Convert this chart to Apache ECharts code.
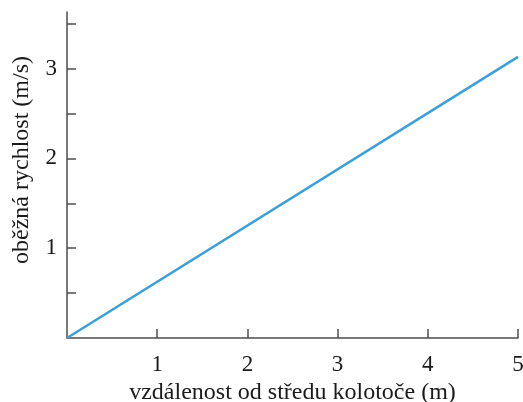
<!DOCTYPE html>
<html><head><meta charset="utf-8">
<script src="https://cdn.jsdelivr.net/npm/echarts@6/dist/echarts.min.js"></script>
<style>html,body{margin:0;padding:0;background:#fff}#c{width:523px;height:402px}</style>
</head><body><div id="c"></div>
<script>
const distance = [0, 5];
const speed = [0, 3.13];
const xTicks = [1, 2, 3, 4, 5];
const yTicks = [0.5, 1, 1.5, 2, 2.5, 3, 3.5];
const yLabels = [1, 2, 3];
const xName = 'vzdálenost od středu kolotoče (m)';
const yName = 'oběžná rychlost (m/s)';

const font = '"Liberation Serif", "DejaVu Serif", serif';
const axisColor = '#4d4d4d';
const chart = echarts.init(document.getElementById('c'));
chart.setOption({
  animation: false,
  grid: {left: 67, right: 5, top: 12, bottom: 64, containLabel: false, outerBoundsMode: 'none'},
  xAxis: {
    type: 'value', min: 0, max: 5,
    name: xName, nameLocation: 'middle', nameGap: 42,
    nameTextStyle: {fontFamily: font, fontSize: 24, color: '#1a1a1a'},
    axisLine: {lineStyle: {color: axisColor, width: 1.5}},
    axisTick: {show: true, inside: true, length: 9, customValues: xTicks, lineStyle: {color: axisColor, width: 1.5}},
    axisLabel: {customValues: xTicks, fontFamily: font, fontSize: 23, color: '#1a1a1a', margin: 15},
    splitLine: {show: false}
  },
  yAxis: {
    type: 'value', min: 0, max: 3.63,
    name: yName, nameLocation: 'middle', nameGap: 33,
    nameTextStyle: {fontFamily: font, fontSize: 24, color: '#1a1a1a', padding: [0, 0, 0, 30]},
    axisLine: {lineStyle: {color: axisColor, width: 1.5}},
    axisTick: {show: true, inside: true, length: 9, customValues: yTicks, lineStyle: {color: axisColor, width: 1.5}},
    axisLabel: {customValues: yLabels, fontFamily: font, fontSize: 23, color: '#1a1a1a', margin: 10},
    splitLine: {show: false}
  },
  series: [{
    type: 'line',
    data: distance.map((d, i) => [d, speed[i]]),
    showSymbol: false,
    lineStyle: {color: '#3aa0d8', width: 2.5},
    clip: false
  }]
});
</script></body></html>
